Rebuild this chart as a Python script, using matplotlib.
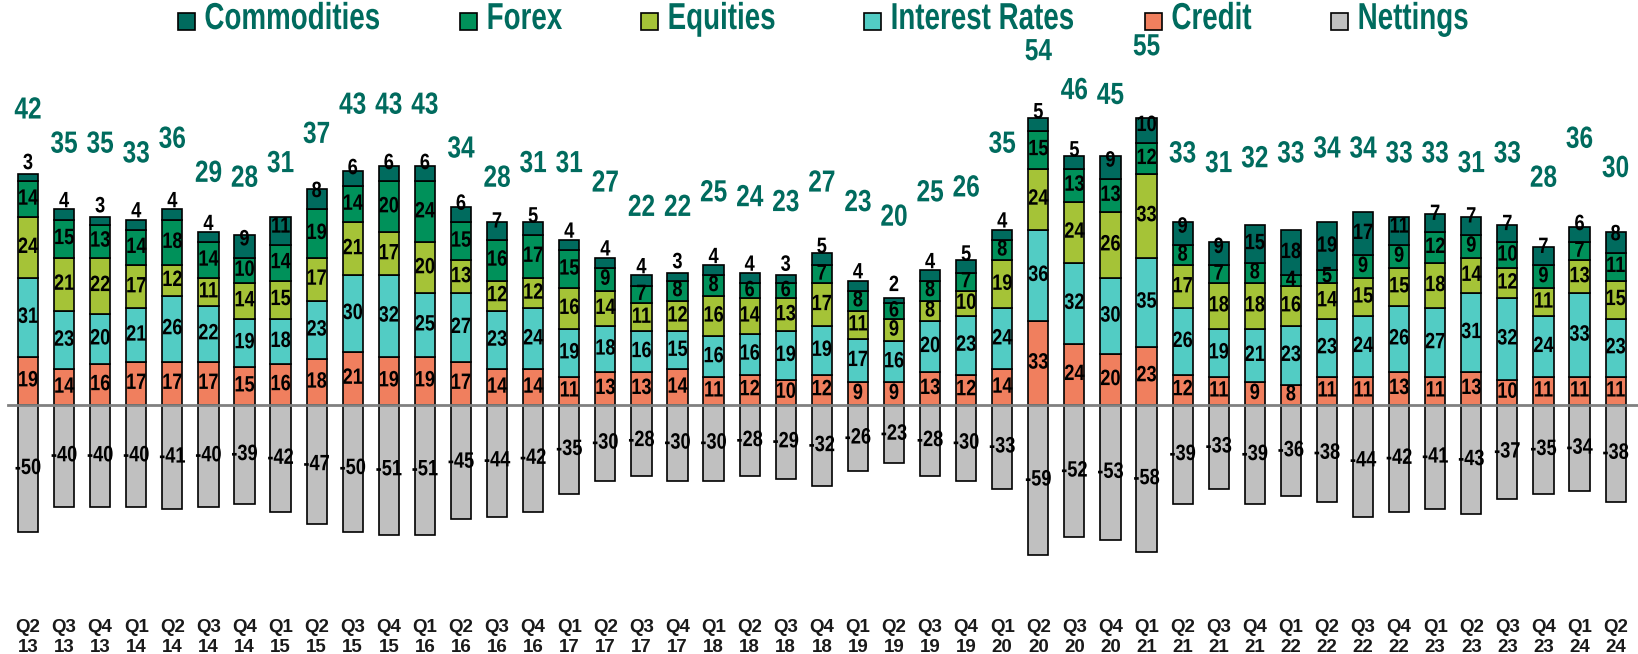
import matplotlib
matplotlib.use('Agg')
import matplotlib.pyplot as plt
import matplotlib.transforms as mtransforms
from matplotlib.patches import Rectangle
from matplotlib.patheffects import AbstractPathEffect

quarters = ['Q2 13', 'Q3 13', 'Q4 13', 'Q1 14', 'Q2 14', 'Q3 14', 'Q4 14', 'Q1 15', 'Q2 15',
            'Q3 15', 'Q4 15', 'Q1 16', 'Q2 16', 'Q3 16', 'Q4 16', 'Q1 17', 'Q2 17', 'Q3 17',
            'Q4 17', 'Q1 18', 'Q2 18', 'Q3 18', 'Q4 18', 'Q1 19', 'Q2 19', 'Q3 19', 'Q4 19',
            'Q1 20', 'Q2 20', 'Q3 20', 'Q4 20', 'Q1 21', 'Q2 21', 'Q3 21', 'Q4 21', 'Q1 22',
            'Q2 22', 'Q3 22', 'Q4 22', 'Q1 23', 'Q2 23', 'Q3 23', 'Q4 23', 'Q1 24', 'Q2 24']
credit = [19, 14, 16, 17, 17, 17, 15, 16, 18, 21, 19, 19, 17, 14, 14, 11, 13, 13, 14, 11, 12, 10, 12,
          9, 9, 13, 12, 14, 33, 24, 20, 23, 12, 11, 9, 8, 11, 11, 13, 11, 13, 10, 11, 11, 11]
rates = [31, 23, 20, 21, 26, 22, 19, 18, 23, 30, 32, 25, 27, 23, 24, 19, 18, 16, 15, 16, 16, 19, 19,
         17, 16, 20, 23, 24, 36, 32, 30, 35, 26, 19, 21, 23, 23, 24, 26, 27, 31, 32, 24, 33, 23]
equities = [24, 21, 22, 17, 12, 11, 14, 15, 17, 21, 17, 20, 13, 12, 12, 16, 14, 11, 12, 16, 14, 13, 17,
            11, 9, 8, 10, 19, 24, 24, 26, 33, 17, 18, 18, 16, 14, 15, 15, 18, 14, 12, 11, 13, 15]
forex = [14, 15, 13, 14, 18, 14, 10, 14, 19, 14, 20, 24, 15, 16, 17, 15, 9, 7, 8, 8, 6, 6, 7,
         8, 6, 8, 7, 8, 15, 13, 13, 12, 8, 7, 8, 4, 5, 9, 9, 12, 9, 10, 9, 7, 11]
commodities = [3, 4, 3, 4, 4, 4, 9, 11, 8, 6, 6, 6, 6, 7, 5, 4, 4, 4, 3, 4, 4, 3, 5,
               4, 2, 4, 5, 4, 5, 5, 9, 10, 9, 9, 15, 18, 19, 17, 11, 7, 7, 7, 7, 6, 8]
nettings = [-50, -40, -40, -40, -41, -40, -39, -42, -47, -50, -51, -51, -45, -44, -42, -35, -30, -28,
            -30, -30, -28, -29, -32, -26, -23, -28, -30, -33, -59, -52, -53, -58, -39, -33, -39, -36,
            -38, -44, -42, -41, -43, -37, -35, -34, -38]
totals = [42, 35, 35, 33, 36, 29, 28, 31, 37, 43, 43, 43, 34, 28, 31, 31, 27, 22, 22, 25, 24, 23, 27,
          23, 20, 25, 26, 35, 54, 46, 45, 55, 33, 31, 32, 33, 34, 34, 33, 33, 31, 33, 28, 36, 30]

legend_names = ['Commodities', 'Forex', 'Equities', 'Interest Rates', 'Credit', 'Nettings']
legend_colors = ['#006B5E', '#00915A', '#A5C337', '#52CCC4', '#F07F5E', '#C0C0C0']

FONT = ['Liberation Sans', 'DejaVu Sans']
TEAL = '#006B5E'


class Squeeze(AbstractPathEffect):
    """Draw text horizontally compressed (no narrow font available)."""

    def __init__(self, sx=0.8, anchor='center'):
        super().__init__()
        self.sx = sx
        self.anchor = anchor

    def draw_path(self, renderer, gc, tpath, affine, rgbFace=None):
        ext = tpath.get_extents()
        cx = ext.x0 if self.anchor == 'left' else (ext.x0 + ext.x1) / 2
        t = mtransforms.Affine2D().translate(-cx, 0).scale(self.sx, 1).translate(cx, 0)
        renderer.draw_path(gc, tpath, t + affine, rgbFace)


fig = plt.figure(figsize=(16.38, 6.54), dpi=100)
ax = fig.add_axes([0, 0, 1, 1])
ax.set_xlim(-0.776, 44.62)
ax.set_ylim(-98, 159.4)
ax.axis('off')

x = list(range(len(quarters)))
w = 0.56
series = [(credit, '#F07F5E'), (rates, '#52CCC4'), (equities, '#A5C337'),
          (forex, '#00915A'), (commodities, '#006B5E')]
label_kw = dict(ha='center', va='center', fontsize=16, fontweight='bold', family=FONT,
                zorder=4, path_effects=[Squeeze(0.82)])

bottom = [0] * len(x)
for vals, col in series:
    ax.bar(x, vals, w, bottom=bottom, color=col, edgecolor='black', linewidth=1.2, zorder=2)
    for i, v in enumerate(vals):
        if vals is commodities:
            # small top segments get their label pushed above the bar
            y = bottom[i] + v - min(v - 7, v / 2)
        else:
            y = bottom[i] + v / 2
        ax.text(i, y, str(v), **label_kw)
    bottom = [b + v for b, v in zip(bottom, vals)]

ax.bar(x, nettings, w, color='#C0C0C0', edgecolor='black', linewidth=1.2, zorder=2)
for i, v in enumerate(nettings):
    ax.text(i, v / 2, str(v), **label_kw)

ax.axhline(0, xmin=0.005, xmax=1, color='#808080', linewidth=2, zorder=3)

# totals sit on their own scale
ax2 = ax.twinx()
ax2.set_ylim(-69.6, 64.7)
ax2.axis('off')
for i, t in enumerate(totals):
    ax2.text(i, t, str(t), ha='center', va='center', fontsize=22, fontweight='bold',
             color=TEAL, family=FONT, path_effects=[Squeeze(0.8)])

trans = mtransforms.blended_transform_factory(ax.transData, fig.transFigure)
for i, q in enumerate(quarters):
    qq, yy = q.split()
    ax.text(i, 1 - 627 / 654, qq, transform=trans, ha='center', va='center', fontsize=13.5,
            fontweight='bold', family=FONT, color='#1A1A1A')
    ax.text(i, 1 - 648 / 654, yy, transform=trans, ha='center', va='center', fontsize=13.5,
            fontweight='bold', family=FONT, color='#1A1A1A')

# legend drawn by hand: boxes and squeezed labels
W, H = 1638, 654
box_left = [178, 460, 641, 864, 1145, 1331]
for bx, name, col in zip(box_left, legend_names, legend_colors):
    fig.add_artist(Rectangle((bx / W, 1 - 30 / H), 17 / W, 17 / H, transform=fig.transFigure,
                             facecolor=col, edgecolor='black', linewidth=1.2))
    fig.text((bx + 26) / W, 1 - 19 / H, name, ha='left', va='center', fontsize=27,
             fontweight='bold', color=TEAL, family=FONT,
             path_effects=[Squeeze(0.74, anchor='left')])

fig.savefig('out.png', dpi=100)
